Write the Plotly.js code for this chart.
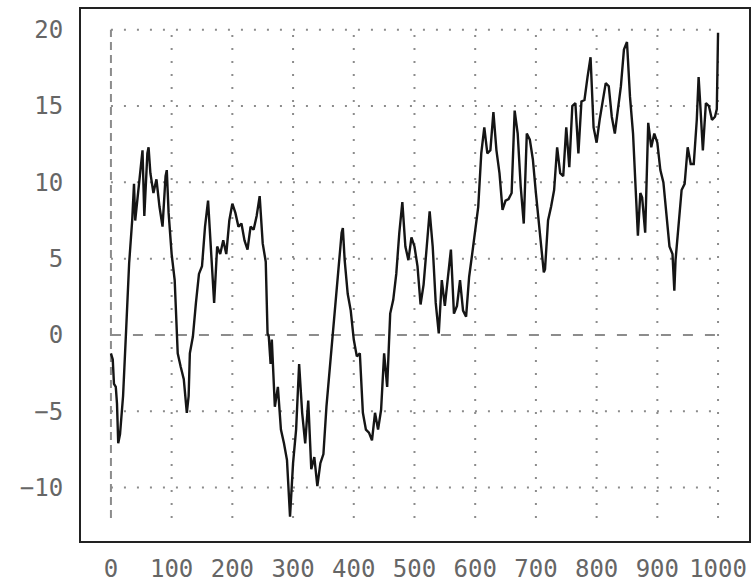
<!DOCTYPE html>
<html>
<head>
<meta charset="utf-8">
<script src="https://cdn.plot.ly/plotly-3.0.1.min.js"></script>
<style>html,body{margin:0;padding:0;background:#fff;}#chart{width:755px;height:583px;}</style>
</head>
<body>
<div id="chart"></div>
<script>
const stepX = [0,3,5,8,10,12,15,18,20,25,30,35,38,40,45,50,52,55,60,62,65,70,75,80,85,90,92,95,100,105,110,115,120,125,128,130,135,140,145,150,155,160,165,170,175,180,185,190,195,200,205,210,215,220,225,230,235,240,245,250,255,258,260,263,265,270,275,280,285,290,295,300,305,310,315,320,325,330,335,340,345,350,355,360,365,370,375,380,382,385,390,395,400,405,410,415,420,425,430,435,440,445,450,455,460,465,470,475,480,485,490,495,500,505,510,515,520,525,530,535,540,545,550,555,560,565,570,575,580,585,590,595,600,605,610,615,620,625,630,635,640,645,650,655,660,665,670,675,680,685,690,695,700,705,710,713,715,720,725,730,735,740,745,750,755,760,765,770,775,780,785,790,795,800,805,810,815,820,825,830,835,840,845,850,855,860,865,868,872,875,880,885,890,895,900,905,910,915,920,925,928,930,935,940,945,950,955,960,965,968,970,975,980,985,990,995,998,1000];
const walkY = [-1.2,-1.6,-3.2,-3.4,-4.5,-7.1,-6.5,-4.8,-4.0,0.3,4.7,7.5,9.9,7.5,9.3,11.5,12.1,7.8,11.9,12.3,10.6,9.3,10.2,8.4,7.1,10.4,10.8,8.0,5.3,3.6,-1.2,-2.1,-2.9,-5.1,-4.0,-1.2,-0.1,2.1,4.0,4.5,7.1,8.8,5.8,2.1,5.8,5.3,6.2,5.3,7.5,8.6,8.0,7.1,7.3,6.2,5.6,7.1,6.9,7.8,9.1,6.0,4.8,0.1,-0.1,-1.9,-0.3,-4.7,-3.4,-6.2,-7.1,-8.2,-11.9,-8.4,-6.2,-1.9,-5.1,-7.1,-4.3,-8.8,-8.0,-9.9,-8.4,-7.8,-4.7,-2.3,-0.3,2.1,4.5,6.7,7.0,4.9,2.7,1.6,-0.3,-1.4,-1.2,-5.1,-6.2,-6.4,-6.9,-5.1,-6.2,-4.9,-1.2,-3.4,1.4,2.3,4.0,6.7,8.7,5.8,4.9,6.4,5.8,4.5,2.0,3.3,5.7,8.1,5.8,2.1,0.1,3.6,1.9,3.6,5.6,1.4,1.9,3.6,1.6,1.2,3.8,5.3,6.7,8.4,11.9,13.6,11.9,12.1,14.6,12.1,10.6,8.2,8.8,8.9,9.3,14.7,13.2,9.7,7.3,13.2,12.8,11.5,9.3,7.1,5.3,4.1,4.3,7.5,8.4,9.5,12.3,10.6,10.4,13.6,11.0,15.0,15.2,11.9,15.3,15.4,16.9,18.2,13.6,12.6,14.1,15.2,16.5,16.3,14.3,13.2,14.7,16.3,18.7,19.2,15.6,13.2,9.0,6.5,9.3,9.0,6.7,13.9,12.3,13.2,12.6,10.8,10.0,7.8,5.8,5.3,2.9,4.9,7.3,9.5,9.9,12.3,11.2,11.2,14.1,16.9,15.6,12.1,15.2,15.0,14.1,14.3,14.8,19.8];

const xTickVals = [0,100,200,300,400,500,600,700,800,900,1000];
const xTickText = ["0","100","200","300","400","500","600","700","800","900","1000"];
const yTickVals = [-10,-5,0,5,10,15,20];
const yTickText = ["\u221210","\u22125","0","5","10","15","20"];
const gridYMin = -12, gridYMax = 20, gridXMin = 0, gridXMax = 1000;

const shapes = [];
xTickVals.forEach(v => {
  shapes.push({type:'line', xref:'x', yref:'y', x0:v, x1:v, y0:gridYMin, y1:gridYMax, layer:'below',
    line:{color:'#8c8c8c', width: 2, dash: v===0 ? '8px,5px' : '2px,11px'}});
});
yTickVals.forEach(v => {
  shapes.push({type:'line', xref:'x', yref:'y', x0:gridXMin, x1:gridXMax, y0:v, y1:v, layer:'below',
    line:{color:'#8c8c8c', width: 2, dash: v===0 ? '10px,12px' : '2px,11px'}});
});

const tickFont = {family:'DejaVu Sans Mono, monospace', size:24, color:'#666'};

Plotly.newPlot('chart', [{
  x: stepX, y: walkY, type:'scatter', mode:'lines',
  line:{color:'#151515', width:2.4}, hoverinfo:'skip'
}], {
  width:755, height:583,
  margin:{l:81, r:6, t:9, b:42, pad:0},
  paper_bgcolor:'#fff', plot_bgcolor:'#fff',
  showlegend:false,
  xaxis:{range:[-49.3,1051], tickvals:xTickVals, ticktext:xTickText, showgrid:false, zeroline:false,
    showline:true, mirror:true, linecolor:'#222', linewidth:2, ticks:'', ticklabelstandoff:5, tickfont:tickFont},
  yaxis:{range:[-13.5,21.36], tickvals:yTickVals, ticktext:yTickText, showgrid:false, zeroline:false,
    showline:true, mirror:true, linecolor:'#222', linewidth:2, ticks:'', ticklabelstandoff:11, tickfont:tickFont},
  shapes: shapes
}, {displayModeBar:false, staticPlot:true});
</script>
</body>
</html>
